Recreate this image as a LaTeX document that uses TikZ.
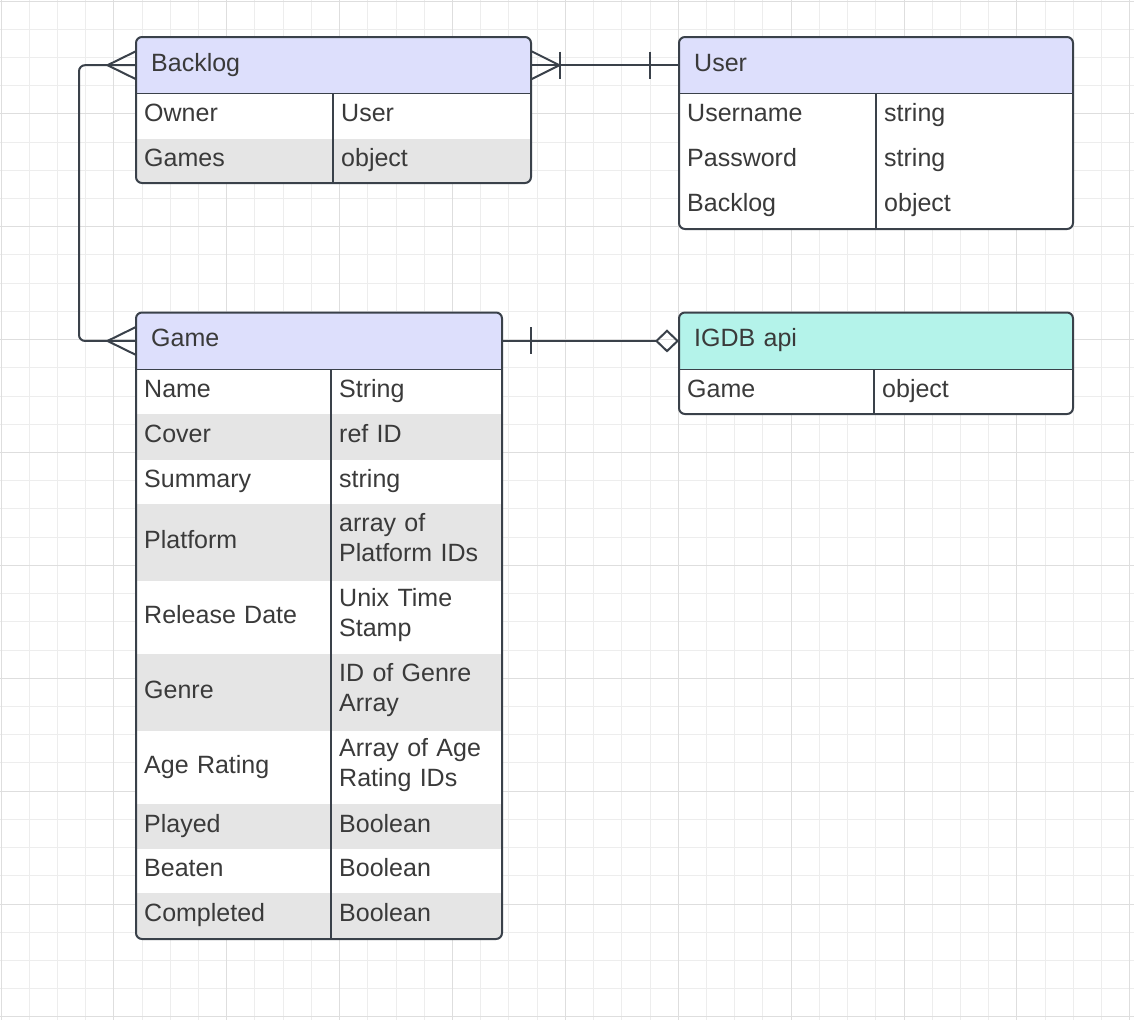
\documentclass[tikz,border=0pt]{standalone}
\usepackage{fontspec}
\setmainfont{Liberation Sans}
\usetikzlibrary{arrows.meta}
\definecolor{ink}{RGB}{58,65,74}
\definecolor{txt}{RGB}{58,58,58}
\definecolor{lav}{RGB}{221,223,252}
\definecolor{igdbteal}{RGB}{180,243,234}
\definecolor{rowgray}{RGB}{229,229,229}
\definecolor{gridminor}{RGB}{237,237,237}
\definecolor{gridmajor}{RGB}{222,222,222}
\tikzset{
  cell/.style={anchor=base west, inner sep=0pt, text=txt, text width=165pt, align=left, font=\fontsize{25}{30}\selectfont},
  hdr/.style={anchor=north west, inner xsep=15pt, inner ysep=0pt, minimum height=56pt, text height=18pt, text depth=6pt, text=txt, align=left, font=\fontsize{25}{30}\selectfont},
  frame/.style={draw=ink, line width=2pt, rounded corners=6pt},
  rule/.style={draw=ink, line width=1.6pt},
  link/.style={draw=ink, line width=2pt},
}
\begin{document}
\begin{tikzpicture}[x=1pt,y=-1pt]
\useasboundingbox (0,0) rectangle (1134,1020);
\fill[white] (0,0) rectangle (1134,1020);
\foreach \i in {0,...,40} \draw[gridminor, line width=1pt] ({1+28.22*\i},0) -- ({1+28.22*\i},1020);
\foreach \j in {0,...,36} \draw[gridminor, line width=1pt] (0,{1+28.22*\j}) -- (1134,{1+28.22*\j});
\foreach \i in {0,...,10} \draw[gridmajor, line width=1pt] ({1+112.88*\i},0) -- ({1+112.88*\i},1020);
\foreach \j in {0,...,9} \draw[gridmajor, line width=1pt] (0,{1+112.88*\j}) -- (1134,{1+112.88*\j});

\begin{scope}
\clip[rounded corners=6pt] (136,37) rectangle (531,183);
\fill[white] (136,37) rectangle (531,183);
\node[hdr, fill=lav, text width=365pt] (backloghead) at (136,37) {Backlog};
\foreach \top/\bot/\key/\val/\shade [count=\n] in {93/139/Owner/User/white, 139/183/Games/object/rowgray} {
  \fill[\shade] (136,\top) rectangle (531,\bot);
  \node[cell] (backlog-key-\n) at (144,{(\top+\bot)/2+5.5}) {\key};
  \node[cell] (backlog-val-\n) at (341,{(\top+\bot)/2+5.5}) {\val};
}
\end{scope}
\draw[frame] (136,37) rectangle (531,183);
\draw[rule] (backloghead.south west) -- (backloghead.south east);
\draw[rule] (333,93) -- (333,183);

\begin{scope}
\clip[rounded corners=6pt] (679,37) rectangle (1073,229);
\fill[white] (679,37) rectangle (1073,229);
\node[hdr, fill=lav, text width=364pt] (userhead) at (679,37) {User};
\foreach \top/\bot/\key/\val [count=\n] in {93/138/Username/string, 138/183/Password/string, 183/229/Backlog/object} {
  \node[cell] (user-key-\n) at (687,{(\top+\bot)/2+5.5}) {\key};
  \node[cell] (user-val-\n) at (884,{(\top+\bot)/2+5.5}) {\val};
}
\end{scope}
\draw[frame] (679,37) rectangle (1073,229);
\draw[rule] (userhead.south west) -- (userhead.south east);
\draw[rule] (876,93) -- (876,229);

\begin{scope}
\clip[rounded corners=6pt] (136,312.5) rectangle (502,939);
\fill[white] (136,312.5) rectangle (502,939);
\node[hdr, fill=lav, text width=336pt, minimum height=56.5pt] (gamehead) at (136,312.5) {Game};
\foreach \top/\bot/\key/\val/\shade/\off [count=\n] in {369/414/Name/String/white/5.5, 414/460/Cover/ref ID/rowgray/5.5, 460/504/Summary/string/white/5.5, 504/581/Platform/{array of\\Platform IDs}/rowgray/-11, 581/654/Release Date/{Unix Time\\Stamp}/white/-11, 654/731/Genre/{ID of Genre\\Array}/rowgray/-11, 731/804/Age Rating/{Array of Age\\Rating IDs}/white/-11, 804/849/Played/Boolean/rowgray/5.5, 849/893/Beaten/Boolean/white/5.5, 893/939/Completed/Boolean/rowgray/5.5} {
  \fill[\shade] (136,\top) rectangle (502,\bot);
  \node[cell] (game-key-\n) at (144,{(\top+\bot)/2+5.5}) {\key};
  \node[cell] (game-val-\n) at (339,{(\top+\bot)/2+\off}) {\val};
}
\end{scope}
\draw[frame] (136,312.5) rectangle (502,939);
\draw[rule] (gamehead.south west) -- (gamehead.south east);
\draw[rule] (331,369) -- (331,939);

\begin{scope}
\clip[rounded corners=6pt] (679,312.5) rectangle (1073,414);
\fill[white] (679,312.5) rectangle (1073,414);
\node[hdr, fill=igdbteal, text width=364pt, minimum height=56.5pt] (igdbhead) at (679,312.5) {IGDB api};
\node[cell] (igdb-key-1) at (687,397) {Game};
\node[cell] (igdb-val-1) at (882,397) {object};
\end{scope}
\draw[frame] (679,312.5) rectangle (1073,414);
\draw[rule] (igdbhead.south west) -- (igdbhead.south east);
\draw[rule] (874,369) -- (874,414);

\draw[link] (backloghead.east) -- (userhead.west);
\draw[link] ([yshift=14pt]backloghead.east) -- ++(28,14) -- ++(-28,14);
\draw[link] ([xshift=29pt,yshift=13.5pt]backloghead.east) -- ++(0,27);
\draw[link] ([xshift=-29.5pt,yshift=13.5pt]userhead.west) -- ++(0,27);

\draw[link, rounded corners=6pt] (backloghead.west) -- ++(-57,0) |- (gamehead.west);
\draw[link] ([yshift=14pt]backloghead.west) -- ++(-28.5,14) -- ++(28.5,14);
\draw[link] ([yshift=14pt]gamehead.west) -- ++(-28.5,14) -- ++(28.5,14);

\draw[link, -{Diamond[open, length=24pt, width=23pt]}] (gamehead.east) -- (igdbhead.west);
\draw[link] ([xshift=29pt,yshift=13.5pt]gamehead.east) -- ++(0,27);
\end{tikzpicture}
\end{document}
